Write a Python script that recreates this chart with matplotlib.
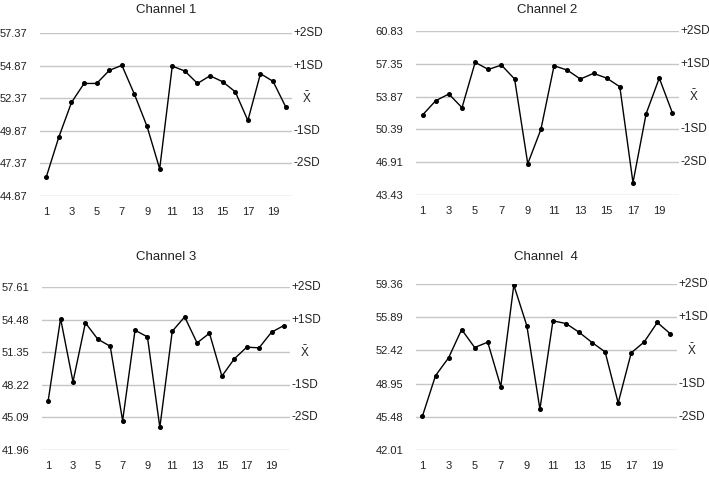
import matplotlib.pyplot as plt
import numpy as np

plt.rcParams['font.family'] = ['Liberation Sans', 'DejaVu Sans']
plt.rcParams['mathtext.fontset'] = 'custom'
plt.rcParams['mathtext.rm'] = 'Liberation Sans'

days = np.arange(1, 21)
sd_labels = ['-2SD', '-1SD', r'$\bar{\mathrm{X}}$', '+1SD', '+2SD']

titles = ['Channel 1', 'Channel 2', 'Channel 3', 'Channel  4']

# control limits: mean and one standard deviation for each channel
means = [52.37, 53.87, 51.35, 52.42]
sds = [2.50, 3.48, 3.13, 3.47]

ch1 = [46.33, 49.40, 52.04, 53.50, 53.50, 54.50, 54.89, 52.66, 50.20, 46.95,
       54.83, 54.45, 53.50, 54.09, 53.63, 52.86, 50.66, 54.25, 53.66, 51.71]
ch2 = [51.92, 53.44, 54.15, 52.70, 57.51, 56.76, 57.22, 55.74, 46.75, 50.40,
       57.15, 56.69, 55.74, 56.34, 55.84, 54.92, 44.74, 52.06, 55.84, 52.13]
ch3 = [46.69, 54.58, 48.51, 54.16, 52.60, 51.92, 44.77, 53.46, 52.82, 44.13,
       53.36, 54.74, 52.24, 53.17, 49.05, 50.71, 51.83, 51.77, 53.27, 53.91]
ch4 = [45.57, 49.79, 51.65, 54.61, 52.73, 53.29, 48.64, 59.26, 55.00, 46.27,
       55.52, 55.24, 54.33, 53.25, 52.27, 46.93, 52.17, 53.32, 55.35, 54.16]
channels = [ch1, ch2, ch3, ch4]

# [left, bottom, width, height] in figure fractions
positions = [
    [0.0564, 0.590, 0.3554, 0.341],
    [0.5867, 0.592, 0.3710, 0.343],
    [0.0592, 0.0586, 0.3500, 0.341],
    [0.5867, 0.0586, 0.3680, 0.347],
]
title_y = [0.979, 0.979, 0.462, 0.462]

fig = plt.figure(figsize=(7.09, 4.78), dpi=100)

for i in range(4):
    ax = fig.add_axes(positions[i])
    m, s = means[i], sds[i]
    levels = [m + k * s for k in (-3, -2, -1, 0, 1, 2)]
    for lv in levels:
        ax.axhline(lv, color='#c6c6c6', lw=1.0, zorder=1)
    ax.plot(days, channels[i], color='black', lw=1.0, marker='o',
            markersize=2.6, zorder=3)
    ax.set_xlim(0.5, 20.5)
    ax.set_ylim(levels[0], levels[-1])
    ax.set_yticks(levels)
    ax.set_yticklabels(['%.2f' % lv for lv in levels])
    ax.set_xticks(days[::2])
    for sp in ax.spines.values():
        sp.set_visible(False)
    ax.tick_params(axis='y', length=0, pad=9, labelsize=8, colors='#222222')
    ax.tick_params(axis='x', length=0, pad=8, labelsize=8, colors='#222222')
    for lv, lab in zip(levels[1:], sd_labels):
        dx = 7 if lab.startswith('$') else 1
        ax.annotate(lab, xy=(1, lv), xycoords=('axes fraction', 'data'),
                    xytext=(dx, 0), textcoords='offset points',
                    ha='left', va='center', fontsize=8.5, color='#222222')
    x0, w = positions[i][0], positions[i][2]
    fig.text(x0 + w / 2, title_y[i], titles[i], ha='center', va='center',
             fontsize=9.5, color='#222222')

fig.savefig('out.png', dpi=100)
